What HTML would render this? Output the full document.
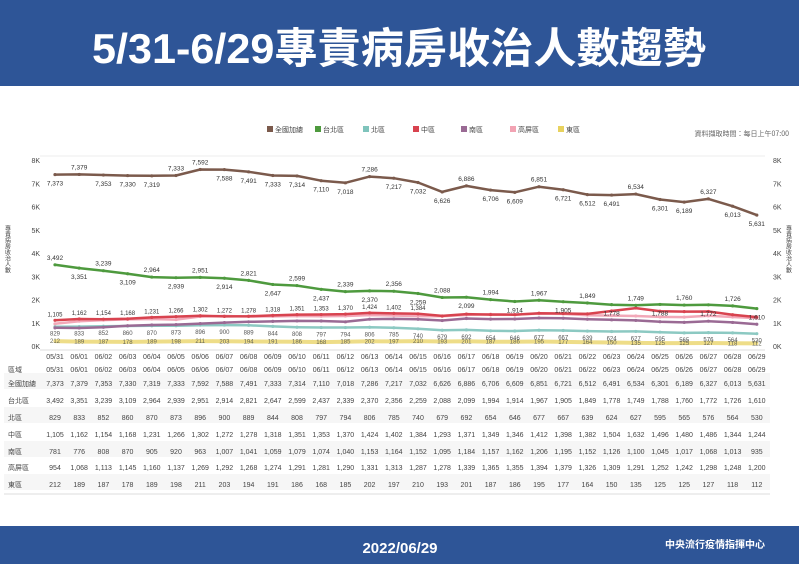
<!DOCTYPE html>
<html><head><meta charset="utf-8"><style>
body{margin:0;width:799px;height:564px;overflow:hidden;background:#fff;font-family:"Liberation Sans","Noto Sans CJK TC",sans-serif;}
</style></head><body>
<svg id="s" width="799" height="564" xmlns="http://www.w3.org/2000/svg" style="display:block">
<rect x="0" y="0" width="799" height="86" fill="#2e5597"/>
<text x="92" y="63" fill="#fff" font-size="42" font-weight="bold" textLength="614" lengthAdjust="spacingAndGlyphs" font-family="Liberation Sans,Noto Sans CJK TC,sans-serif">5/31-6/29專責病房收治人數趨勢</text>
<rect x="0" y="526" width="799" height="38" fill="#2e5597"/>
<text x="400" y="553" text-anchor="middle" fill="#fff" font-size="15" font-weight="bold">2022/06/29</text>
<text x="715" y="548" text-anchor="middle" fill="#fff" font-size="10" font-weight="bold" font-family="Noto Sans CJK TC,sans-serif">中央流行疫情指揮中心</text>
<text x="789" y="136" text-anchor="end" fill="#666" font-size="7" font-family="Noto Sans CJK TC,sans-serif">資料擷取時間：每日上午07:00</text>
<g id="g"></g>
</svg>
<script>
const total=[7373,7379,7353,7330,7319,7333,7592,7588,7491,7333,7314,7110,7018,7286,7217,7032,6626,6886,6706,6609,6851,6721,6512,6491,6534,6301,6189,6327,6013,5631];
const taipei=[3492,3351,3239,3109,2964,2939,2951,2914,2821,2647,2599,2437,2339,2370,2356,2259,2088,2099,1994,1914,1967,1905,1849,1778,1749,1788,1760,1772,1726,1610];
const north=[829,833,852,860,870,873,896,900,889,844,808,797,794,806,785,740,679,692,654,646,677,667,639,624,627,595,565,576,564,530];
const central=[1105,1162,1154,1168,1231,1266,1302,1272,1278,1318,1351,1353,1370,1424,1402,1384,1293,1371,1349,1346,1412,1398,1382,1504,1632,1496,1480,1486,1344,1244];
const south=[781,776,808,870,905,920,963,1007,1041,1059,1079,1074,1040,1153,1164,1152,1095,1184,1157,1162,1206,1195,1152,1126,1100,1045,1017,1068,1013,935];
const kp=[954,1068,1113,1145,1160,1137,1269,1292,1268,1274,1291,1281,1290,1331,1313,1287,1278,1339,1365,1355,1394,1379,1326,1309,1291,1252,1242,1298,1248,1200];
const east=[212,189,187,178,189,198,211,203,194,191,186,168,185,202,197,210,193,201,187,186,195,177,164,150,135,125,125,127,118,112];
const dates=[];for(let i=0;i<30;i++){dates.push(i==0?'05/31':'06/'+String(i).padStart(2,'0'));}
const X=i=>55+i*24.2, Y=v=>346-v*23.25/1000;
const f=n=>n.toLocaleString('en-US');
let h='';
h+=`<line x1="40" y1="156" x2="765" y2="156" stroke="#eee"/><line x1="40" y1="350" x2="765" y2="350" stroke="#ddd"/>`;
for(let k=0;k<=8;k++){const y=Y(k*1000)+3;h+=`<text x="40" y="${y}" text-anchor="end" font-size="7" fill="#444">${k}K</text><text x="773" y="${y}" font-size="7" fill="#444">${k}K</text>`;}
h+=`<text x="8" y="225" font-size="6" fill="#444" writing-mode="tb" font-family="Noto Sans CJK TC,sans-serif">專責病房收治人數</text>`;
h+=`<text x="789" y="225" font-size="6" fill="#444" writing-mode="tb" font-family="Noto Sans CJK TC,sans-serif">專責病房收治人數</text>`;
const leg=[['全國加總','#7b5a4c',272],['台北區','#4e9a3e',320],['北區','#7fc4bc',368],['中區','#d8434f',418],['南區','#9a6a94',466],['高屏區','#f2a3b3',515],['東區','#e8d25e',563]];
leg.forEach(l=>{h+=`<rect x="${l[2]-5}" y="126" width="6" height="6" fill="${l[1]}"/><text x="${l[2]+3}" y="132" font-size="7" fill="#444" font-family="Noto Sans CJK TC,sans-serif">${l[0]}</text>`});
function line(d,c,w){let p=d.map((v,i)=>(i?'L':'M')+X(i).toFixed(1)+','+Y(v).toFixed(1)).join('');h+=`<path d="${p}" fill="none" stroke="${c}" stroke-width="${w}" stroke-linejoin="round"/>`;d.forEach((v,i)=>h+=`<circle cx="${X(i)}" cy="${Y(v)}" r="1.6" fill="${c}"/>`);}
line(east,'#eedd88',4);line(north,'#8cc9c2',2.5);line(south,'#9a6a94',2.5);line(kp,'#f2a8b8',2.5);line(central,'#d8434f',2.5);line(taipei,'#4e9a3e',2.5);line(total,'#7b5a4c',2.5);
total.forEach((v,i)=>{const up=i==0?false:(i<29&&(v>=total[i-1]));h+=`<text x="${X(i)}" y="${Y(v)+(up?-5:11)}" text-anchor="middle" font-size="6.5" fill="#333">${f(v)}</text>`});
taipei.forEach((v,i)=>{const up=(i%2==0);h+=`<text x="${X(i)}" y="${Y(v)+(up?-5:11)}" text-anchor="middle" font-size="6.5" fill="#333">${f(v)}</text>`});
central.forEach((v,i)=>{if(i<16)h+=`<text x="${X(i)}" y="${Y(v)-4}" text-anchor="middle" font-size="6" fill="#333">${f(v)}</text>`});
north.forEach((v,i)=>{h+=`<text x="${X(i)}" y="${Y(v)+9}" text-anchor="middle" font-size="6" fill="#555">${f(v)}</text>`});
east.forEach((v,i)=>{h+=`<text x="${X(i)}" y="${Y(v)+2}" text-anchor="middle" font-size="6" fill="#665">${v}</text>`});
dates.forEach((d,i)=>{h+=`<text x="${X(i)}" y="359" text-anchor="middle" font-size="7" fill="#444">${d}</text>`});
const rows=[['區域',dates],['全國加總',total.map(f)],['台北區',taipei.map(f)],['北區',north.map(f)],['中區',central.map(f)],['南區',south.map(f)],['高屏區',kp.map(f)],['東區',east.map(f)]];
const ry=[369,383,400,417,434,451,467,484];
rows.forEach((r,j)=>{if(j%2==1)h+=`<rect x="4" y="${ry[j]-10}" width="766" height="16" fill="#f6f6f6"/>`;
h+=`<text x="8" y="${ry[j]+3}" font-size="7" fill="#444" font-family="Noto Sans CJK TC,sans-serif">${r[0]}</text>`;
r[1].forEach((v,i)=>h+=`<text x="${X(i)}" y="${ry[j]+3}" text-anchor="middle" font-size="7" fill="#444">${v}</text>`);});
h+=`<line x1="4" y1="494" x2="770" y2="494" stroke="#ddd"/>`;
document.getElementById('g').innerHTML=h;
</script>
</body></html>
